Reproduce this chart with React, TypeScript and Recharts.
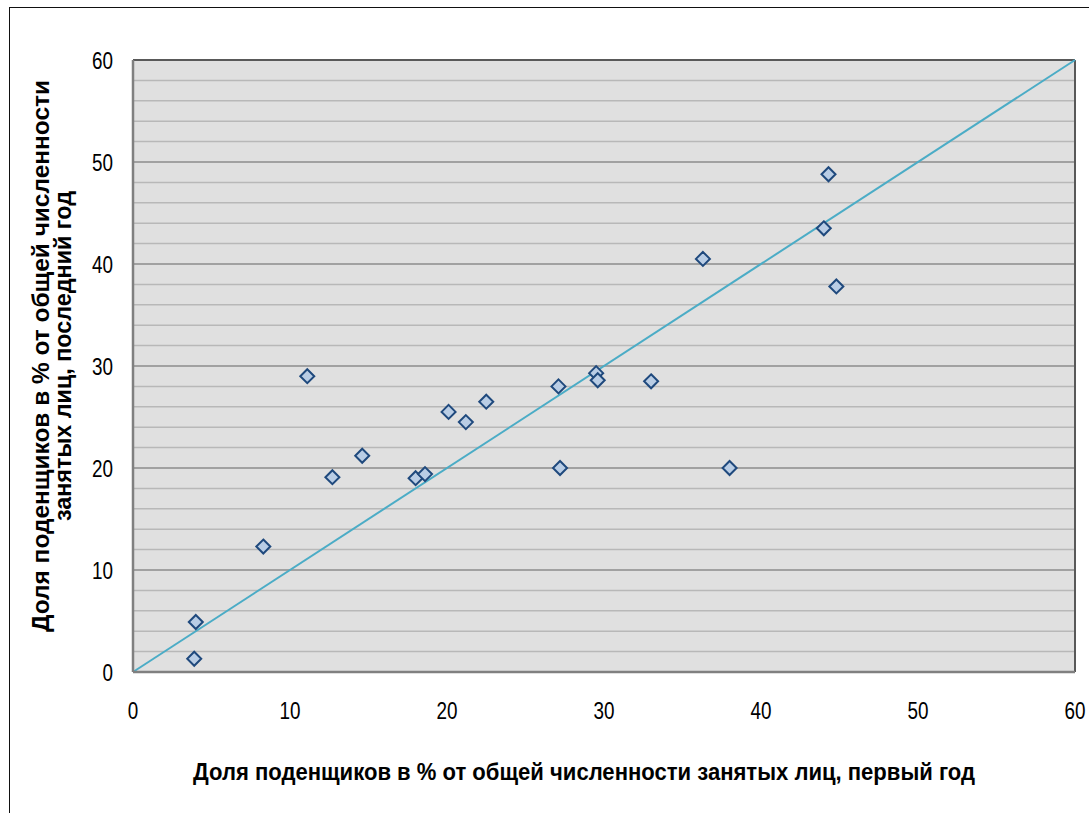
import React from 'react';
import { ScatterChart, Scatter, XAxis, YAxis, CartesianGrid, ReferenceLine } from 'recharts';

// share of day labourers, % of employed: first year vs last year
const firstYear = [4.0, 3.9, 8.3, 11.1, 12.7, 14.6, 18.0, 18.6, 20.1, 21.2, 22.5, 27.1, 27.2, 29.5, 29.6, 33.0, 38.0, 36.3, 44.0, 44.3, 44.8];
const lastYear = [4.9, 1.3, 12.3, 29.0, 19.1, 21.2, 19.0, 19.4, 25.5, 24.5, 26.5, 28.0, 20.0, 29.3, 28.6, 28.5, 20.0, 40.5, 43.5, 48.8, 37.8];

const axisTicks = [0, 10, 20, 30, 40, 50, 60];
const minorGrid = [2, 4, 6, 8, 12, 14, 16, 18, 22, 24, 26, 28, 32, 34, 36, 38, 42, 44, 46, 48, 52, 54, 56, 58];
const majorGrid = [10, 20, 30, 40, 50];

const xTitle = 'Доля поденщиков в % от общей численности занятых лиц, первый год';
const yTitleLines = ['Доля поденщиков в % от общей численности', 'занятых лиц, последний год'];

const points = firstYear.map((x, i) => ({ x, y: lastYear[i] }));

const FONT = '"Liberation Sans", Arial, sans-serif';
const DIGIT_W = 10.5;

const Diamond = (props: any) => {
  const { cx, cy } = props;
  const r = 7;
  return (
    <polygon
      points={`${cx},${cy - r} ${cx + r},${cy} ${cx},${cy + r} ${cx - r},${cy}`}
      fill="#b9cde5"
      stroke="#1f497d"
      strokeWidth={2}
    />
  );
};

const XTick = (props: any) => {
  const { x, y, payload } = props;
  const s = String(payload.value);
  return (
    <text x={x} y={y + 17} textAnchor="middle" fontFamily={FONT} fontSize={24} fill="#000"
      textLength={s.length * DIGIT_W} lengthAdjust="spacingAndGlyphs">
      {s}
    </text>
  );
};

const YTick = (props: any) => {
  const { x, y, payload } = props;
  const s = String(payload.value);
  return (
    <text x={x} y={y + 8.5} textAnchor="end" fontFamily={FONT} fontSize={24} fill="#000"
      textLength={s.length * DIGIT_W} lengthAdjust="spacingAndGlyphs">
      {s}
    </text>
  );
};

const XTitle = (props: any) => {
  const { viewBox } = props;
  return (
    <text
      x={viewBox.x + viewBox.width / 2 - 20}
      y={viewBox.y + 108}
      textAnchor="middle"
      fontFamily={FONT}
      fontWeight="bold"
      fontSize={24}
      fill="#000"
      textLength={782}
      lengthAdjust="spacingAndGlyphs"
    >
      {xTitle}
    </text>
  );
};

const yTitleLengths = [552, 330];

const YTitle = (props: any) => {
  const { viewBox } = props;
  const cy = viewBox.y + viewBox.height / 2 - 10;
  return (
    <g>
      {yTitleLines.map((line, i) => (
        <text
          key={i}
          x={0}
          y={0}
          transform={`translate(${49 + i * 22}, ${cy}) rotate(-90)`}
          textAnchor="middle"
          fontFamily={FONT}
          fontWeight="bold"
          fontSize={24}
          fill="#000"
          textLength={yTitleLengths[i]}
          lengthAdjust="spacingAndGlyphs"
        >
          {line}
        </text>
      ))}
    </g>
  );
};

export default function App() {
  return (
    <div style={{ position: 'absolute', left: 0, top: 0, width: 1089, height: 813, overflow: 'hidden', background: '#fff' }}>
      <div style={{ position: 'absolute', left: 9, top: 7, width: 1200, height: 1000, border: '1.5px solid #111' }} />
      <div style={{ position: 'absolute', left: 0, top: 0 }}>
        <ScatterChart width={1089} height={813} margin={{ top: 60, right: 14, left: 73, bottom: 41 }}>
          <CartesianGrid fill="#e0e0e0" stroke="#8a8a8a" vertical={false} horizontal={false} />
          {minorGrid.map((v) => (
            <ReferenceLine key={`m${v}`} y={v} stroke="#b8b8b8" strokeWidth={1.5} />
          ))}
          {majorGrid.map((v) => (
            <ReferenceLine key={`M${v}`} y={v} stroke="#8c8c8c" strokeWidth={1.5} />
          ))}
          <ReferenceLine y={60} stroke="#595959" strokeWidth={2} />
          <ReferenceLine x={60} stroke="#595959" strokeWidth={2} />
          <XAxis
            type="number"
            dataKey="x"
            domain={[0, 60]}
            ticks={axisTicks}
            height={100}
            axisLine={{ stroke: '#808080', strokeWidth: 2.5 }}
            tickLine={false}
            tickSize={0}
            tickMargin={30}
            tick={<XTick />}
            label={<XTitle />}
          />
          <YAxis
            type="number"
            dataKey="y"
            domain={[0, 60]}
            ticks={axisTicks}
            width={60}
            axisLine={{ stroke: '#808080', strokeWidth: 2.5 }}
            tickLine={false}
            tickSize={0}
            tickMargin={20}
            tick={<YTick />}
            label={<YTitle />}
          />
          <ReferenceLine
            segment={[{ x: 0, y: 0 }, { x: 60, y: 60 }]}
            stroke="#4bacc6"
            strokeWidth={2}
          />
          <Scatter data={points} shape={<Diamond />} isAnimationActive={false} />
        </ScatterChart>
      </div>
    </div>
  );
}
